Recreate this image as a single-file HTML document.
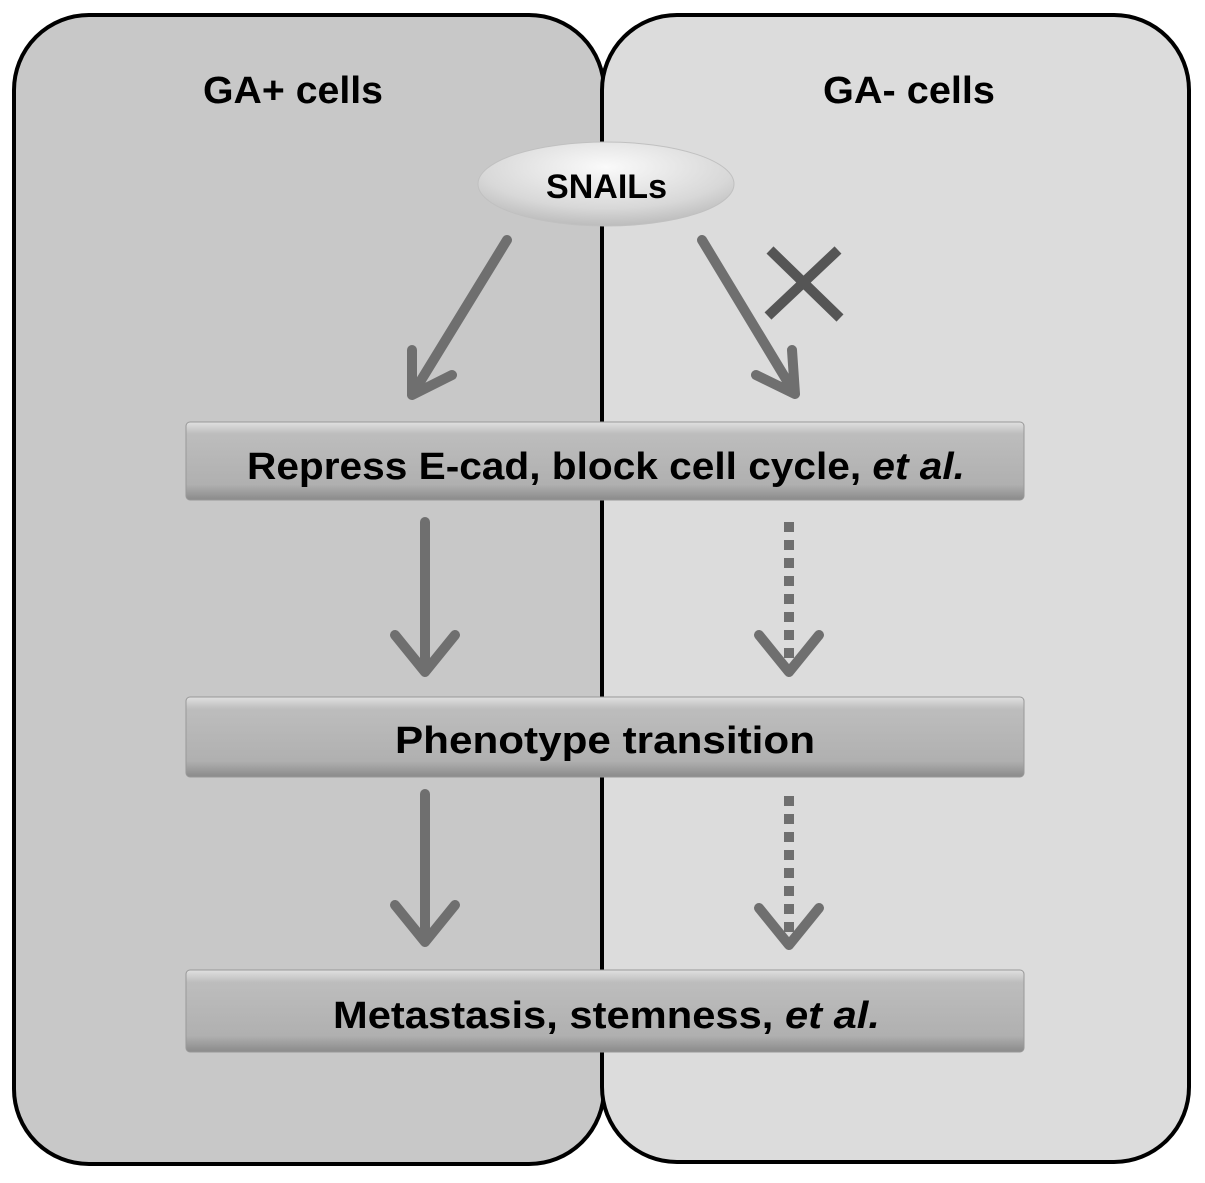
<!DOCTYPE html><html><head><style>body{margin:0;background:#fff;width:1205px;height:1178px;overflow:hidden}</style></head><body>
<svg width="1205" height="1178" xmlns="http://www.w3.org/2000/svg" font-family="Liberation Sans, sans-serif">
<defs>
<linearGradient id="b" x1="0" y1="0" x2="0" y2="1"><stop offset="0" stop-color="#e0e0e0"/><stop offset="0.15" stop-color="#bdbdbd"/><stop offset="0.8" stop-color="#b0b0b0"/><stop offset="1" stop-color="#8a8a8a"/></linearGradient>
<radialGradient id="e" cx="0.5" cy="0.3" r="0.7"><stop offset="0" stop-color="#fafafa"/><stop offset="0.7" stop-color="#d8d8d8"/><stop offset="1" stop-color="#bcbcbc"/></radialGradient>
</defs>
<rect x="14" y="15" width="590" height="1149" rx="75" fill="#c8c8c8" stroke="#000" stroke-width="4"/>
<rect x="602" y="15" width="587" height="1147" rx="75" fill="#dcdcdc" stroke="#000" stroke-width="4"/>
<text x="203" y="103" font-size="38" font-weight="bold" textLength="180" lengthAdjust="spacingAndGlyphs">GA+ cells</text>
<text x="823" y="103" font-size="38" font-weight="bold" textLength="172" lengthAdjust="spacingAndGlyphs">GA- cells</text>
<ellipse cx="606" cy="184" rx="128" ry="42" fill="url(#e)" stroke="#c0c0c0"/>
<text x="546" y="198" font-size="34" font-weight="bold" textLength="121" lengthAdjust="spacingAndGlyphs">SNAILs</text>
<g stroke="#6f6f6f" stroke-width="10" fill="none" stroke-linecap="round" stroke-linejoin="round">
<path d="M507 240 L412 395 M412 350 L412 395 L452 375"/>
<path d="M702 240 L795 394 M792 350 L795 394 L756 375"/>
<path d="M425 522 L425 672 M395 635 L425 672 L455 635"/>
<path d="M425 794 L425 942 M395 905 L425 942 L455 905"/>
<path d="M789 522 L789 672" stroke-dasharray="10 8" stroke-linecap="butt"/>
<path d="M759 635 L789 672 L819 635"/>
<path d="M789 796 L789 945" stroke-dasharray="10 8" stroke-linecap="butt"/>
<path d="M759 908 L789 945 L819 908"/>
</g>
<g stroke="#555" stroke-width="10"><line x1="770" y1="250" x2="840" y2="318"/><line x1="838" y1="250" x2="768" y2="316"/></g>
<rect x="186" y="422" width="838" height="78" rx="4" fill="url(#b)" stroke="#999"/>
<rect x="186" y="697" width="838" height="80" rx="4" fill="url(#b)" stroke="#999"/>
<rect x="186" y="970" width="838" height="82" rx="4" fill="url(#b)" stroke="#999"/>
<g font-size="38" font-weight="bold">
<text x="247" y="479" textLength="718" lengthAdjust="spacingAndGlyphs">Repress E-cad, block cell cycle, <tspan font-style="italic">et al.</tspan></text>
<text x="395" y="753" textLength="420" lengthAdjust="spacingAndGlyphs">Phenotype transition</text>
<text x="333" y="1028" textLength="547" lengthAdjust="spacingAndGlyphs">Metastasis, stemness, <tspan font-style="italic">et al.</tspan></text>
</g>
</svg></body></html>
